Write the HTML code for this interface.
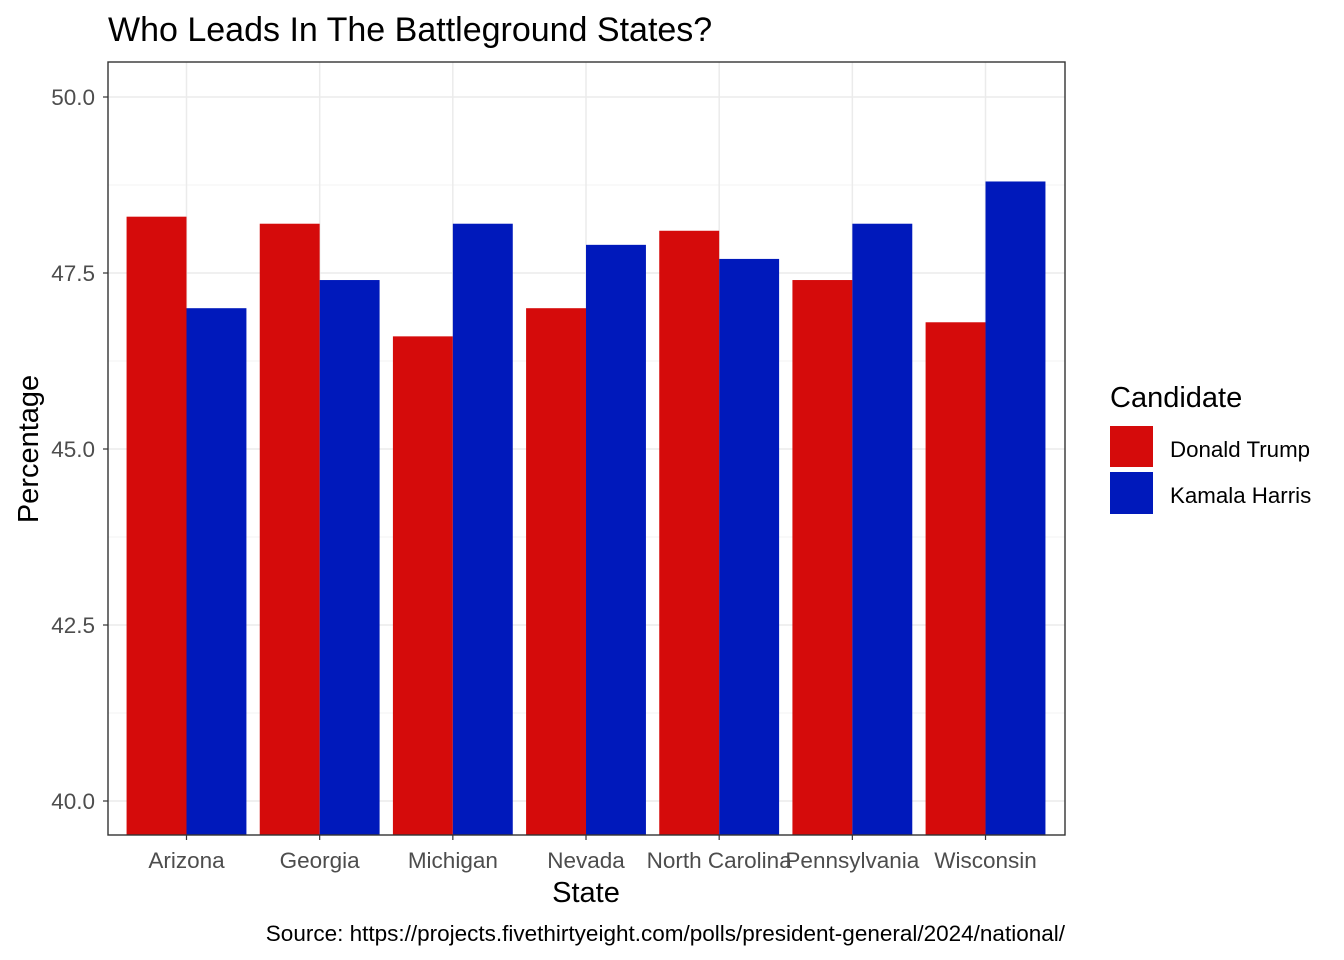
<!DOCTYPE html>
<html><head><meta charset="utf-8"><style>
body{margin:0;background:#fff}
svg{display:block;font-family:"Liberation Sans",Arial,sans-serif}
</style></head><body>
<svg id="c" width="1344" height="960" xmlns="http://www.w3.org/2000/svg"></svg>
<script>
const states=["Arizona","Georgia","Michigan","Nevada","North Carolina","Pennsylvania","Wisconsin"];
const trump=[48.3,48.2,46.6,47.0,48.1,47.4,46.8];
const harris=[47.0,47.4,48.2,47.9,47.7,48.2,48.8];
const yTicks=[40,42.5,45,47.5,50];
const yTickLabels=["40.0","42.5","45.0","47.5","50.0"];
const yMinor=[41.25,43.75,46.25,48.75];
const L=108,R=1065,T=62,B=835;
const y=v=>801-(v-40)*70.4;
const step=133.17;
const x=i=>186.5+step*i;
const svg=document.getElementById('c');
const NS='http://www.w3.org/2000/svg';
function el(tag,attrs,text){const e=document.createElementNS(NS,tag);for(const k in attrs)e.setAttribute(k,attrs[k]);if(text!==undefined)e.textContent=text;svg.appendChild(e);return e;}
let e;
e=el('rect',{x:L,y:T,width:R-L,height:B-T,fill:'#fff'});


yMinor.forEach(v=>{e=el('line',{x1:L,x2:R,y1:y(v),y2:y(v),stroke:'#F3F3F3','stroke-width':1});

});
yTicks.forEach(v=>{e=el('line',{x1:L,x2:R,y1:y(v),y2:y(v),stroke:'#EBEBEB','stroke-width':1.5});

});
states.forEach((s,i)=>{e=el('line',{x1:x(i),x2:x(i),y1:T,y2:B,stroke:'#EBEBEB','stroke-width':1.5});

});
const bw=step*0.45;
states.forEach((s,i)=>{
 e=el('rect',{x:x(i)-bw,y:y(trump[i]),width:bw,height:B-y(trump[i]),fill:'#D50B0B'});
 
 
 e=el('rect',{x:x(i),y:y(harris[i]),width:bw,height:B-y(harris[i]),fill:'#0019BB'});
 
 
 e=el('line',{x1:x(i),x2:x(i),y1:B,y2:B+5,stroke:'#333','stroke-width':1.2});
 
 
 e=el('text',{x:x(i),y:868,'text-anchor':'middle','font-size':22.5,fill:'#4D4D4D'},s);
 
 
});
yTicks.forEach((v,i)=>{
 e=el('line',{x1:L-5,x2:L,y1:y(v),y2:y(v),stroke:'#333','stroke-width':1.2});
 
 
 e=el('text',{x:95,y:y(v)+8,'text-anchor':'end','font-size':22.5,fill:'#4D4D4D'},yTickLabels[i]);
 
 
});
e=el('rect',{x:L,y:T,width:R-L,height:B-T,fill:'none',stroke:'#333','stroke-width':1.4});


e=el('text',{x:108,y:41,'font-size':34,fill:'#000'},'Who Leads In The Battleground States?');


e=el('text',{x:586,y:902,'text-anchor':'middle','font-size':29,fill:'#000'},'State');


e=el('text',{x:38,y:449,'text-anchor':'middle','font-size':29,fill:'#000',transform:'rotate(-90 38 449)'},'Percentage');


e=el('text',{x:1065,y:941,'text-anchor':'end','font-size':22.5,fill:'#000'},'Source: https://projects.fivethirtyeight.com/polls/president-general/2024/national/');


e=el('text',{x:1110,y:407,'font-size':29,fill:'#000'},'Candidate');


e=el('rect',{x:1110,y:426,width:43,height:41,fill:'#D50B0B'});


e=el('rect',{x:1110,y:472,width:43,height:42,fill:'#0019BB'});


e=el('text',{x:1170,y:457,'font-size':22.3,fill:'#000'},'Donald Trump');


e=el('text',{x:1170,y:503,'font-size':22.3,fill:'#000'},'Kamala Harris');


</script>
</body></html>
